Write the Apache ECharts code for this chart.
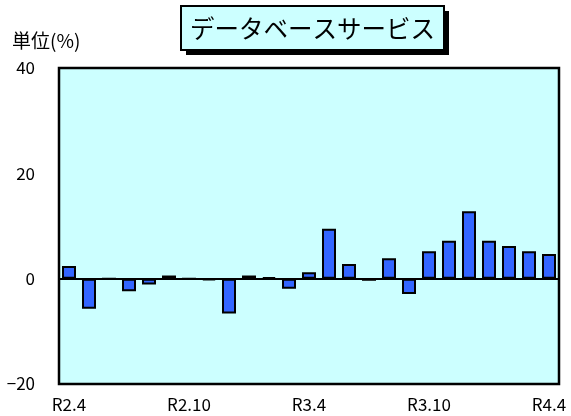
<!DOCTYPE html>
<html><head><meta charset="utf-8">
<script src="https://cdn.jsdelivr.net/npm/echarts@6/dist/echarts.min.js"></script>
<style>html,body{margin:0;padding:0;background:#fff}#c{width:571px;height:416px}</style>
</head><body><div id="c"></div>
<script>
const categories = ['R2.4','R2.5','R2.6','R2.7','R2.8','R2.9','R2.10','R2.11','R2.12','R3.1','R3.2','R3.3','R3.4','R3.5','R3.6','R3.7','R3.8','R3.9','R3.10','R3.11','R3.12','R4.1','R4.2','R4.3','R4.4'];
const values = [2.4,-5.7,0,-2.4,-1.1,0.6,0,-0.3,-6.6,0.6,0.3,-1.9,1.2,9.5,2.8,-0.4,3.9,-2.9,5.2,7.2,12.8,7.2,6.2,5.2,4.7];
const yTicks = [-20,0,20,40];
const titleText = 'データベースサービス';
const unitText = '単位(%)';
const font = '"Noto Sans CJK JP", sans-serif';
const chart = echarts.init(document.getElementById('c'));
chart.setOption({
  animation:false,
  graphic:[
    {type:'rect', shape:{x:186, y:11, width:263, height:44}, style:{fill:'#000'}, silent:true},
    {type:'rect', shape:{x:181, y:6, width:263, height:44}, style:{fill:'#CCFFFF', stroke:'#000', lineWidth:2}, silent:true},
    {type:'text', x:312.5, y:28.5, style:{text:titleText, fill:'#000', font:'normal 24.5px ' + font, textAlign:'center', textVerticalAlign:'middle'}, silent:true},
    {type:'text', x:12, y:41, style:{text:unitText, fill:'#000', font:'normal 19px ' + font, textAlign:'left', textVerticalAlign:'middle'}, silent:true}
  ],
  grid:{left:59, right:12, top:68, bottom:32, show:true, backgroundColor:'#CCFFFF', borderColor:'#000', borderWidth:2.5},
  xAxis:{type:'category', data:categories,
    axisLine:{show:false, onZero:false}, axisTick:{show:false},
    axisLabel:{interval:5, color:'#000', fontFamily:font, fontSize:17, margin:12}},
  yAxis:{type:'value', min:-20, max:40, interval:20,
    axisLine:{show:false}, axisTick:{show:false}, splitLine:{show:false},
    axisLabel:{color:'#000', fontFamily:font, fontSize:17, margin:24,
      formatter:v=> yTicks.includes(v) ? (v<0 ? '−'+Math.abs(v) : String(v)) : ''}},
  series:[{type:'bar', data:values, barWidth:14,
    itemStyle:{color:'#3366FF', borderColor:'#000', borderWidth:2},
    markLine:{silent:true, symbol:'none', label:{show:false},
      lineStyle:{color:'#000', width:2, type:'solid'}, data:[{yAxis:0}]}
  }]
});
</script></body></html>
